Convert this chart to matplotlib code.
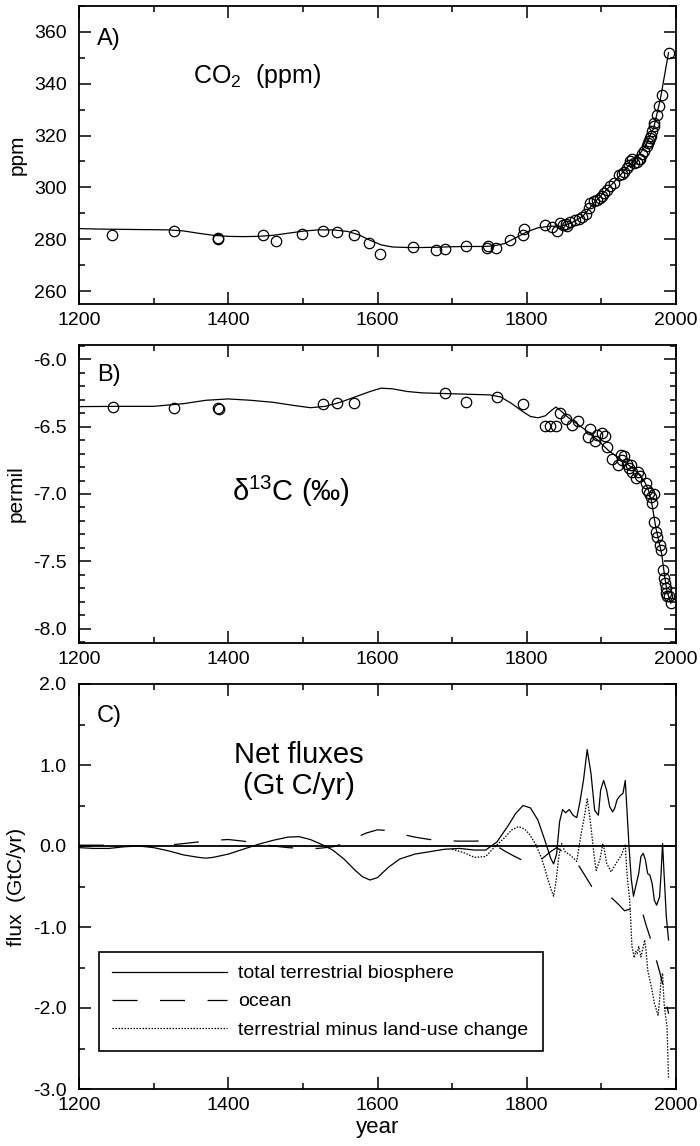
import matplotlib
matplotlib.use("Agg")
import matplotlib.pyplot as plt
from matplotlib.ticker import MultipleLocator

plt.rcParams['font.family'] = ['Liberation Sans', 'DejaVu Sans']
plt.rcParams['mathtext.fontset'] = 'custom'
plt.rcParams['mathtext.rm'] = 'Liberation Sans'
plt.rcParams['mathtext.it'] = 'Liberation Sans:italic'

# --- A) CO2 record (ice core + atmosphere) ---
co2_years = [1244, 1327, 1386, 1386, 1446, 1464, 1499, 1527, 1546, 1569, 1588, 1603,
             1647, 1679, 1691, 1719, 1747, 1748, 1759, 1778, 1795, 1796, 1825, 1834,
             1840, 1845, 1849, 1852, 1854, 1858, 1864, 1870, 1874, 1880, 1883, 1885,
             1890, 1894, 1898, 1901, 1903, 1907, 1912, 1917, 1923, 1928, 1930, 1935,
             1937, 1939, 1941, 1944, 1948, 1950, 1952, 1955, 1957, 1961, 1962, 1964,
             1965, 1966, 1968, 1970, 1971, 1975, 1977, 1981, 1991]
co2_ppm = [281.5, 283.3, 280.0, 280.6, 281.6, 279.5, 282.2, 283.1, 282.8, 281.8, 278.5, 274.2,
           277.1, 275.8, 276.3, 277.4, 276.8, 277.3, 276.6, 279.7, 281.8, 284.0, 285.4, 284.7,
           283.1, 286.3, 285.3, 285.7, 285.0, 286.6, 287.4, 287.9, 288.7, 289.6, 292.1, 294.1,
           294.7, 295.3, 295.9, 296.6, 297.7, 298.9, 300.5, 301.8, 304.7, 305.2, 305.8, 307.6,
           308.8, 310.1, 311.0, 309.5, 309.7, 310.8, 310.8, 312.7, 314.0, 315.9, 317.0, 317.8,
           319.1, 319.8, 321.7, 323.6, 324.9, 328.1, 331.6, 335.8, 351.9]

co2_fit_years = [1200, 1230, 1260, 1290, 1320, 1340, 1360, 1380, 1400, 1420, 1440, 1460,
                 1480, 1500, 1520, 1540, 1560, 1575, 1590, 1605, 1620, 1640, 1660, 1680,
                 1700, 1720, 1740, 1755, 1770, 1785, 1800, 1815, 1830, 1845, 1860, 1875,
                 1890, 1905, 1920, 1935, 1950, 1960, 1970, 1979, 1990]
co2_fit = [284.1, 283.9, 283.8, 283.7, 283.6, 283.2, 282.3, 281.5, 281.1, 281.0, 281.1, 281.5,
           282.3, 283.1, 283.6, 283.6, 283.0, 281.7, 279.6, 277.8, 277.0, 276.8, 276.8, 276.9,
           277.1, 277.2, 277.2, 277.4, 278.3, 280.5, 282.8, 284.4, 285.0, 285.0, 286.3, 288.8,
           294.0, 298.5, 303.0, 307.9, 312.3, 316.5, 322.8, 334.0, 352.0]

# --- B) d13C record ---
d13c_years = [1246, 1327, 1386, 1387, 1527, 1546, 1569, 1691, 1719, 1760, 1795, 1825,
              1831, 1839, 1845, 1852, 1860, 1869, 1882, 1885, 1892, 1894, 1901, 1905,
              1908, 1914, 1922, 1926, 1928, 1930, 1934, 1937, 1940, 1941, 1947, 1949,
              1952, 1960, 1961, 1964, 1966, 1968, 1970, 1971, 1973, 1975, 1978, 1980,
              1982, 1984, 1985, 1986, 1987, 1988, 1991, 1993]
d13c_vals = [-6.358, -6.36, -6.362, -6.372, -6.33, -6.326, -6.323, -6.25, -6.316, -6.28, -6.335, -6.494,
             -6.494, -6.494, -6.40, -6.447, -6.489, -6.46, -6.58, -6.52, -6.61, -6.56, -6.55, -6.57,
             -6.65, -6.74, -6.785, -6.71, -6.75, -6.72, -6.78, -6.81, -6.785, -6.835, -6.884, -6.84,
             -6.87, -6.92, -6.97, -6.995, -7.025, -7.07, -7.0, -7.205, -7.28, -7.32, -7.38, -7.415,
             -7.56, -7.62, -7.66, -7.70, -7.735, -7.755, -7.76, -7.81]

d13c_fit_years = [1200, 1250, 1300, 1340, 1370, 1400, 1430, 1460, 1490, 1510, 1530, 1550,
                  1570, 1590, 1605, 1620, 1640, 1660, 1690, 1720, 1750, 1765, 1780, 1795,
                  1805, 1815, 1825, 1832, 1839, 1845, 1855, 1865, 1880, 1895, 1910, 1925,
                  1940, 1950, 1958, 1963, 1967, 1970, 1973, 1977, 1981, 1985, 1988, 1993]
d13c_fit = [-6.352, -6.35, -6.35, -6.33, -6.305, -6.295, -6.305, -6.32, -6.345, -6.36, -6.35, -6.32,
            -6.28, -6.24, -6.215, -6.22, -6.24, -6.25, -6.255, -6.26, -6.265, -6.28, -6.33, -6.39,
            -6.425, -6.435, -6.42, -6.385, -6.355, -6.38, -6.43, -6.47, -6.53, -6.6, -6.68, -6.74,
            -6.8, -6.85, -6.91, -6.97, -7.05, -7.15, -7.25, -7.35, -7.45, -7.62, -7.72, -7.81]

# --- C) net fluxes (GtC/yr) ---
bio_years = [1200, 1220, 1240, 1260, 1280, 1300, 1320, 1340, 1360, 1370, 1380, 1400, 1420,
             1440, 1460, 1480, 1495, 1510, 1525, 1540, 1555, 1570, 1580, 1590, 1600, 1615,
             1630, 1650, 1670, 1690, 1710, 1730, 1745, 1760, 1775, 1785, 1795, 1805, 1815,
             1825, 1832, 1836, 1840, 1844, 1848, 1852, 1857, 1862, 1867, 1871, 1876, 1881,
             1886, 1891, 1896, 1899, 1903, 1907, 1911, 1915, 1918, 1921, 1925, 1929, 1932,
             1934, 1937, 1940, 1943, 1947, 1950, 1953, 1956, 1959, 1962, 1965, 1968, 1971,
             1974, 1978, 1980, 1982, 1984, 1987, 1990]
bio_flux = [-0.02, -0.03, -0.03, -0.01, 0.0, -0.02, -0.06, -0.11, -0.14, -0.15, -0.14, -0.1, -0.04,
            0.02, 0.07, 0.11, 0.115, 0.08, 0.02, -0.05, -0.16, -0.3, -0.38, -0.42, -0.39, -0.26,
            -0.16, -0.1, -0.07, -0.04, -0.03, -0.05, -0.05, 0.05, 0.25, 0.4, 0.5, 0.47, 0.32,
            0.05, -0.15, -0.22, -0.1, 0.3, 0.45, 0.41, 0.45, 0.38, 0.35, 0.53, 0.81, 1.19,
            0.9, 0.44, 0.38, 0.69, 0.81, 0.69, 0.49, 0.42, 0.47, 0.57, 0.62, 0.65, 0.81,
            0.49, 0.0, -0.4, -0.62, -0.46, -0.34, -0.13, -0.09, -0.17, -0.34, -0.36, -0.46, -0.67,
            -0.73, -0.63, -0.34, 0.03, -0.34, -0.87, -1.16]

ocean_years = [1200, 1230, 1260, 1290, 1320, 1350, 1380, 1400, 1420, 1440, 1460, 1480, 1500,
               1520, 1540, 1555, 1570, 1585, 1600, 1615, 1630, 1650, 1670, 1690, 1710, 1730,
               1745, 1758, 1770, 1782, 1795, 1805, 1815, 1824, 1832, 1840, 1848, 1856, 1864,
               1871, 1879, 1887, 1895, 1902, 1909, 1916, 1924, 1931, 1938, 1945, 1952, 1956,
               1960, 1965, 1969, 1974, 1978, 1982, 1986, 1990]
ocean_flux = [0.01, 0.01, 0.0, 0.0, 0.01, 0.04, 0.07, 0.08, 0.06, 0.03, 0.0, -0.02, -0.03,
              -0.03, -0.01, 0.03, 0.1, 0.16, 0.2, 0.19, 0.15, 0.11, 0.08, 0.065, 0.06, 0.06,
              0.065, 0.01, -0.06, -0.12, -0.18, -0.22, -0.2, -0.13, -0.07, -0.02, -0.07, -0.12, -0.18,
              -0.26, -0.38, -0.5, -0.53, -0.56, -0.6, -0.66, -0.73, -0.8, -0.78, -0.74, -0.71, -0.85,
              -0.98, -1.12, -1.26, -1.42, -1.55, -1.7, -1.88, -2.07]

luc_years = [1700, 1715, 1730, 1745, 1756, 1770, 1780, 1789, 1797, 1804, 1812, 1818, 1823,
             1828, 1832, 1836, 1839, 1842, 1845, 1847, 1851, 1858, 1867, 1873, 1877, 1881,
             1884, 1887, 1890, 1893, 1898, 1902, 1904, 1907, 1913, 1920, 1927, 1932, 1934,
             1936, 1938, 1941, 1944, 1946, 1948, 1950, 1953, 1956, 1958, 1960, 1962, 1967,
             1971, 1976, 1978, 1980, 1982, 1984, 1986, 1988, 1990]
luc_flux = [-0.04, -0.08, -0.14, -0.13, -0.02, 0.1, 0.2, 0.24, 0.21, 0.14, 0.02, -0.11, -0.24,
            -0.4, -0.52, -0.62, -0.45, -0.21, 0.0, 0.03, -0.07, -0.11, -0.19, 0.16, 0.35, 0.58,
            0.4, 0.16, -0.1, -0.3, -0.17, 0.03, -0.05, -0.21, -0.32, -0.21, -0.11, 0.02, -0.3,
            -0.5, -0.67, -1.24, -1.38, -1.3, -1.33, -1.24, -1.37, -1.25, -1.16, -1.3, -1.53, -1.74,
            -1.94, -2.09, -1.9, -1.65, -1.57, -1.94, -2.1, -2.23, -2.87]

year_ticks = [1200, 1400, 1600, 1800, 2000]

W, H = 700, 1146
fig = plt.figure(figsize=(W / 100, H / 100), dpi=100)
left, width = 79 / W, 597 / W
axA = fig.add_axes([left, 1 - 304 / H, width, 298 / H])
axB = fig.add_axes([left, 1 - 643 / H, width, 298 / H])
axC = fig.add_axes([left, 1 - 1089 / H, width, 405 / H])

for ax in (axA, axB, axC):
    ax.set_xlim(1200, 2000)
    ax.set_xticks(year_ticks)
    ax.xaxis.set_minor_locator(MultipleLocator(100))
    ax.tick_params(which='both', direction='in', top=True, right=True, width=1.1, labelsize=14)
    ax.tick_params(axis='x', which='major', length=8.5, pad=6)
    ax.tick_params(axis='x', which='minor', length=4.3)
    ax.tick_params(axis='y', which='major', length=8.5, pad=9)
    ax.tick_params(axis='y', which='minor', length=4.3)
    for s in ax.spines.values():
        s.set_linewidth(1.3)

circle = dict(marker='o', mfc='none', mec='black', ms=7.5, mew=0.9, ls='none')

# A
axA.plot(co2_fit_years, co2_fit, color='black', lw=0.9)
axA.plot(co2_years, co2_ppm, **circle)
axA.set_ylim(255, 370)
axA.set_yticks([260, 280, 300, 320, 340, 360])
axA.yaxis.set_minor_locator(MultipleLocator(10))
axA.set_ylabel('ppm', fontsize=15, labelpad=5)
axA.text(0.03, 0.89, 'A)', transform=axA.transAxes, fontsize=17, va='center')
axA.text(1353, 343, 'CO$_2$  (ppm)', fontsize=18, va='center')

# B
axB.plot(d13c_fit_years, d13c_fit, color='black', lw=0.9)
axB.plot(d13c_years, d13c_vals, **circle)
axB.set_ylim(-8.105, -5.895)
axB.set_yticks([-8.0, -7.5, -7.0, -6.5, -6.0])
axB.yaxis.set_minor_locator(MultipleLocator(0.1))
axB.yaxis.set_major_formatter(plt.FormatStrFormatter('%.1f'))
axB.set_ylabel('permil', fontsize=15, labelpad=5)
axB.text(0.03, 0.9, 'B)', transform=axB.transAxes, fontsize=17, va='center')
axB.text(1405, -6.98, '\u03b4$^{13}$C (\u2030)', fontsize=21, va='center')

# C
axC.axhline(0, color='black', lw=1.3)
axC.plot(bio_years, bio_flux, color='black', lw=0.9, label='total terrestrial biosphere')
axC.plot(ocean_years, ocean_flux, color='black', lw=0.9, dashes=(20, 18), label='ocean')
axC.plot(luc_years, luc_flux, color='black', lw=0.9, dashes=(1.2, 1.2),
         label='terrestrial minus land-use change')
axC.set_ylim(-3.0, 2.0)
axC.set_yticks([-3.0, -2.0, -1.0, 0.0, 1.0, 2.0])
axC.yaxis.set_minor_locator(MultipleLocator(0.5))
axC.yaxis.set_major_formatter(plt.FormatStrFormatter('%.1f'))
axC.set_ylabel('flux  (GtC/yr)', fontsize=15, labelpad=5)
axC.set_xlabel('year', fontsize=16, labelpad=2)
axC.text(0.03, 0.92, 'C)', transform=axC.transAxes, fontsize=17, va='center')
axC.text(1495, 0.93, 'Net fluxes\n(Gt C/yr)', fontsize=21, ha='center', va='center',
         linespacing=1.15)

leg = axC.legend(loc='upper left', bbox_to_anchor=(0.034, 0.09, 0.744, 0.248), mode='expand',
                 borderaxespad=0, fontsize=14, handlelength=5.9, handletextpad=0.57,
                 borderpad=0.65, labelspacing=0.54, fancybox=False, framealpha=1,
                 edgecolor='black')
leg.get_frame().set_linewidth(1.2)

fig.savefig('out.png', dpi=100)
